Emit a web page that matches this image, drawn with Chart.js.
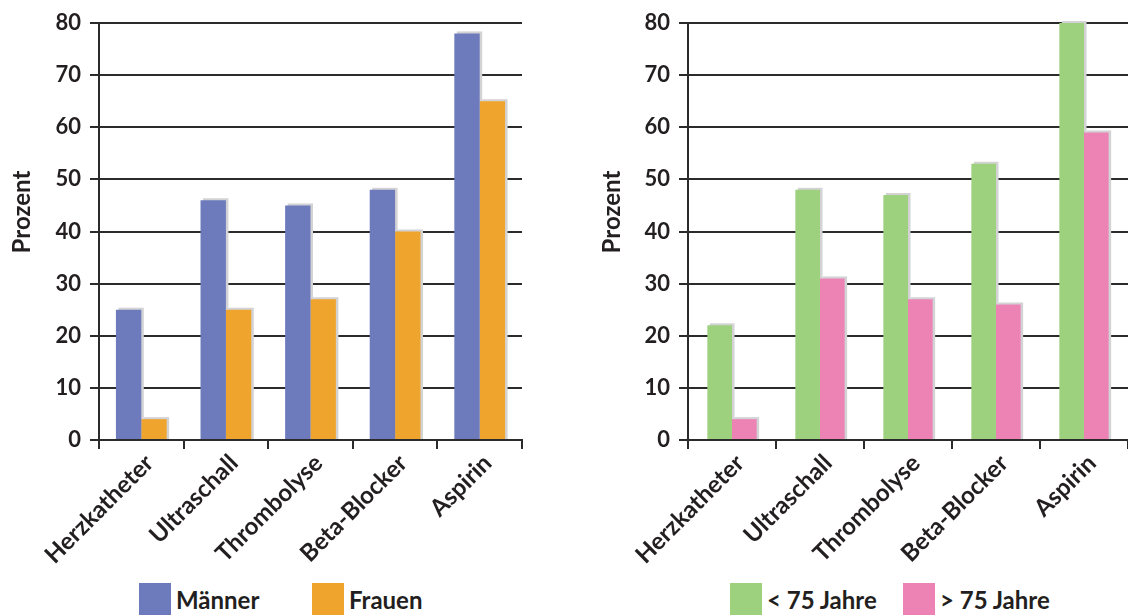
<!DOCTYPE html>
<html>
<head>
<meta charset="utf-8">
<script src="https://cdn.jsdelivr.net/npm/chart.js@4.4.0/dist/chart.umd.min.js"></script>
<style>
  html, body { margin: 0; padding: 0; background: #fff; overflow: hidden; width: 1128px; height: 616px; }
  .panel { position: absolute; top: 0; height: 580px; }
  #leftPanel { left: 0; width: 560px; }
  #rightPanel { left: 590px; width: 538px; }
  .legend { position: absolute; left: 0; top: 583px; width: 1128px; height: 32px;
            font: 700 24px Lato, sans-serif; color: #231f20; }
  .legend .item { position: absolute; top: 0; height: 32px; display: flex; align-items: center; white-space: nowrap; }
  .legend .box { width: 32px; height: 32px; margin-right: 5px; flex: none; }
</style>
</head>
<body>
<div class="panel" id="leftPanel"><canvas id="chartSex"></canvas></div>
<div class="panel" id="rightPanel"><canvas id="chartAge"></canvas></div>
<div class="legend" id="legendSex"></div>
<div class="legend" id="legendAge"></div>
<script>
// Categories and tick values shared by both panels
const categories = ['Herzkatheter', 'Ultraschall', 'Thrombolyse', 'Beta-Blocker', 'Aspirin'];
const yTickValues = [0, 10, 20, 30, 40, 50, 60, 70, 80];
const yAxisTitle = 'Prozent';

// Left panel: by sex
const sexLabels = ['Männer', 'Frauen'];
const maennerValues = [25, 46, 45, 48, 78];
const frauenValues = [4, 25, 27, 40, 65];

// Right panel: by age
const ageLabels = ['< 75 Jahre', '> 75 Jahre'];
const unter75Values = [22, 48, 47, 53, 80];
const ueber75Values = [4, 31, 27, 26, 59];

const INK = '#231f20';
const LINE = '#2b2b2b';

// Grey drop shadow behind each bar, taken from the bar elements' own geometry
const barShadow = {
  id: 'barShadow',
  beforeDatasetsDraw(chart, args, opts) {
    const ctx = chart.ctx;
    ctx.save();
    ctx.fillStyle = opts.color;
    chart.data.datasets.forEach((ds, i) => {
      chart.getDatasetMeta(i).data.forEach(bar => {
        const p = bar.getProps(['x', 'y', 'base', 'width'], true);
        const top = p.y + opts.dy;
        ctx.fillRect(p.x - p.width / 2 + opts.dx, top, p.width, p.base - top);
      });
    });
    ctx.restore();
  }
};

// Rotated caption beside the value axis
const sideCaption = {
  id: 'sideCaption',
  afterDraw(chart, args, opts) {
    if (!opts.text) return;
    const ctx = chart.ctx;
    ctx.save();
    ctx.translate(opts.x, opts.y);
    ctx.rotate(-Math.PI / 2);
    ctx.font = opts.font;
    ctx.fillStyle = opts.color;
    ctx.textAlign = 'center';
    ctx.textBaseline = 'middle';
    ctx.fillText(opts.text, 0, 0);
    ctx.restore();
  }
};

function makeChart(canvasId, labels, seriesA, seriesB, colors, opt) {
  return new Chart(document.getElementById(canvasId), {
    type: 'bar',
    data: {
      labels: categories,
      datasets: [
        { label: labels[0], data: seriesA, backgroundColor: colors[0] },
        { label: labels[1], data: seriesB, backgroundColor: colors[1] }
      ]
    },
    plugins: [barShadow, sideCaption],
    options: {
      responsive: true,
      maintainAspectRatio: false,
      animation: false,
      layout: { padding: opt.padding },
      datasets: { bar: { categoryPercentage: opt.catPct, barPercentage: 1.0, borderWidth: 0 } },
      plugins: {
        legend: { display: false },
        tooltip: { enabled: false },
        barShadow: { color: '#d3d3d5', dx: 2.5, dy: -2 },
        sideCaption: { text: yAxisTitle, x: 22, y: 212, font: '700 24px Lato, sans-serif', color: INK }
      },
      scales: {
        x: {
          grid: { display: true, offset: true, drawOnChartArea: false, drawTicks: true,
                  tickLength: 9, color: LINE, lineWidth: 2 },
          border: { display: true, color: LINE, width: 2 },
          ticks: { color: INK, font: { family: 'Lato', weight: '700', size: 24 },
                   minRotation: 45, maxRotation: 45, autoSkip: false, padding: 0,
                   labelOffset: opt.labelOffset },
          afterFit(scale) { scale.height = 140; }
        },
        y: {
          min: yTickValues[0],
          max: yTickValues[yTickValues.length - 1],
          afterBuildTicks(scale) { scale.ticks = yTickValues.map(v => ({ value: v })); },
          grid: { color: LINE, lineWidth: 2, drawTicks: true, tickLength: 9 },
          border: { display: true, color: LINE, width: 2 },
          ticks: { color: INK, font: { family: 'Lato', weight: '700', size: 22 }, padding: 9 },
          afterFit(scale) { scale.width = opt.yWidth; }
        }
      }
    }
  });
}

const sexColors = ['#6d7bbd', '#efa42d'];
const ageColors = ['#9dd17e', '#ed83b5'];

makeChart('chartSex', sexLabels, maennerValues, frauenValues, sexColors,
  { padding: { top: 23, right: 38, left: 0, bottom: 0 }, yWidth: 99, catPct: 0.6, labelOffset: 8 });
makeChart('chartAge', ageLabels, unter75Values, ueber75Values, ageColors,
  { padding: { top: 23, right: 0, left: 0, bottom: 0 }, yWidth: 98, catPct: 0.56, labelOffset: 8 });

// HTML legends built from the series names and colours
function buildLegend(id, labels, colors, lefts) {
  const el = document.getElementById(id);
  labels.forEach((txt, i) => {
    const item = document.createElement('div');
    item.className = 'item';
    item.style.left = lefts[i] + 'px';
    const box = document.createElement('span');
    box.className = 'box';
    box.style.background = colors[i];
    const label = document.createElement('span');
    label.textContent = txt;
    item.appendChild(box);
    item.appendChild(label);
    el.appendChild(item);
  });
}
buildLegend('legendSex', sexLabels, sexColors, [139, 312]);
buildLegend('legendAge', ageLabels, ageColors, [730, 903]);
</script>
</body>
</html>
